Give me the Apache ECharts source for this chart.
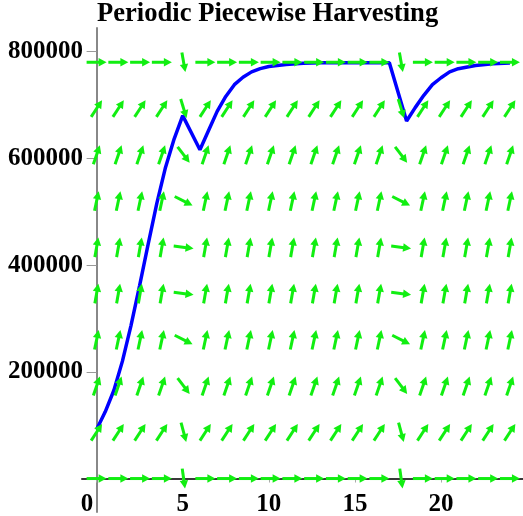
<!DOCTYPE html>
<html><head><meta charset="utf-8">
<script src="https://cdn.jsdelivr.net/npm/echarts@6/dist/echarts.min.js"></script>
<style>html,body{margin:0;padding:0;background:#fff}#c{width:523px;height:516px}</style>
</head><body><div id="c"></div>
<script>
// Solution curve
const curveT = [0, 0.5, 1.0, 1.5, 2.0, 2.5, 3.0, 3.5, 4.0, 4.5, 5.0, 6.0, 6.5, 7.0, 7.5, 8.0, 8.5, 9.0, 9.5, 10.0, 11, 12, 13, 17.0, 18.0, 18.5, 19.0, 19.5, 20.0, 20.5, 21.0, 22.0, 23.0, 24.0];
const curveP = [92000, 125000, 165000, 220000, 287000, 362000, 440000, 516000, 583000, 636000, 680000, 616000, 652000, 688000, 716000, 738000, 752000, 762000, 768000, 772000, 776000, 778000, 779000, 779000, 670000, 695000, 718000, 738000, 751000, 762000, 768000, 774000, 777000, 778500];
// Direction field grid and arrow angles (degrees)
const fieldX = [0, 1.263, 2.526, 3.789, 5.053, 6.316, 7.579, 8.842, 10.105, 11.368, 12.632, 13.895, 15.158, 16.421, 17.684, 18.947, 20.211, 21.474, 22.737, 24];
const fieldY = [0, 86667, 173333, 260000, 346667, 433333, 520000, 606667, 693333, 780000];
const growthAngle = [0, 57, 71, 78, 80, 80, 78, 71, 57, 0];
const harvestAngle = [-82, -75, -53, -27, -7, -7, -27, -53, -73, -80];
const harvestCols = [4, 14];
const xTicks = [0, 5, 10, 15, 20];
const yTicks = [200000, 400000, 600000, 800000];

const GREEN = '#11ee11';
const FONT = "'Liberation Serif', 'Times New Roman', serif";

const fieldData = [];
fieldY.forEach((y, i) => {
  fieldX.forEach((x, j) => {
    fieldData.push([x, y, harvestCols.includes(j) ? harvestAngle[i] : growthAngle[i]]);
  });
});
const curveData = curveT.map((t, k) => [t, curveP[k]]);

const chart = echarts.init(document.getElementById('c'));
chart.setOption({
  animation: false,
  backgroundColor: '#fff',
  title: {
    text: 'Periodic Piecewise Harvesting',
    left: 97, top: 1, padding: 0,
    textStyle: { fontFamily: FONT, fontWeight: 'bold', fontSize: 26.6, color: '#000' }
  },
  grid: { left: 82, right: 0, top: 28, bottom: 4, containLabel: false, outerBoundsMode: 'none' },
  xAxis: {
    type: 'value', min: -0.848, max: 24.76,
    axisLine: { onZero: true, lineStyle: { color: '#3a3a3a', width: 2 } },
    axisTick: { customValues: xTicks, length: 4, lineStyle: { color: '#aaa' } },
    splitLine: { show: false },
    axisLabel: {
      customValues: xTicks, margin: -20, color: '#000',
      fontFamily: FONT, fontWeight: 'bold', fontSize: 25,
      formatter: v => v === 0 ? '{z|0}' : String(v),
      rich: { z: { padding: [0, 19, 0, 0], fontFamily: FONT, fontWeight: 'bold', fontSize: 25, color: '#000' } }
    }
  },
  yAxis: {
    type: 'value', min: -62700, max: 844200,
    axisLine: { onZero: true, lineStyle: { color: '#888', width: 2 } },
    axisTick: { customValues: yTicks, length: 10, lineStyle: { color: '#999' } },
    splitLine: { show: false },
    axisLabel: {
      customValues: yTicks, margin: -1, color: '#000',
      fontFamily: FONT, fontWeight: 'bold', fontSize: 25,
      formatter: v => String(v)
    }
  },
  series: [
    {
      type: 'line', data: curveData, showSymbol: false, z: 2,
      lineStyle: { color: '#0000ff', width: 3.5 }
    },
    {
      type: 'custom', data: fieldData, z: 3, clip: false,
      renderItem: function (params, api) {
        const c = api.coord([api.value(0), api.value(1)]);
        const a = api.value(2) * Math.PI / 180;
        const L = 20, H = 8, W = 4.2;
        const dx = Math.cos(a), dy = -Math.sin(a);
        const x0 = c[0] - dx * L / 2, y0 = c[1] - dy * L / 2;
        const x1 = c[0] + dx * L / 2, y1 = c[1] + dy * L / 2;
        const bx = x1 - dx * H, by = y1 - dy * H;
        const px = -dy, py = dx;
        return {
          type: 'group', children: [
            { type: 'line', shape: { x1: x0, y1: y0, x2: bx + dx, y2: by + dy }, style: { stroke: GREEN, lineWidth: 3 } },
            { type: 'polygon', shape: { points: [[x1, y1], [bx + px * W, by + py * W], [bx - px * W, by - py * W]] }, style: { fill: GREEN } }
          ]
        };
      }
    }
  ]
});
</script>
</body></html>
